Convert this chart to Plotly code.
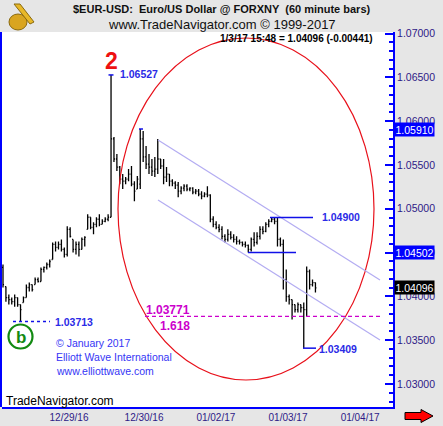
import plotly.graph_objects as go

# ---------------- data ----------------
bar_open = [1.04330, 1.04112, 1.03986, 1.03963, 1.03940, 1.03986, 1.03906, 1.03929, 1.03986, 1.04101,
            1.04135, 1.04135, 1.04192, 1.04170, 1.04307, 1.04330, 1.04364, 1.04421, 1.04593, 1.04559,
            1.04593, 1.04536, 1.04479, 1.04765, 1.04650, 1.04536, 1.04593, 1.04536, 1.04650, 1.04765,
            1.04903, 1.04788, 1.04822, 1.04880, 1.04822, 1.04857, 1.04880, 1.04903, 1.05797, 1.05568,
            1.05476, 1.05338, 1.05315, 1.05338, 1.05396, 1.05281, 1.05224, 1.05281, 1.05797, 1.05591,
            1.05510, 1.05476, 1.05430, 1.05453, 1.05568, 1.05488, 1.05361, 1.05396, 1.05315, 1.05292,
            1.05269, 1.05201, 1.05235, 1.05258, 1.05224, 1.05235, 1.05189, 1.05201, 1.05166, 1.05144,
            1.05166, 1.05155, 1.04880, 1.04822, 1.04788, 1.04765, 1.04685, 1.04650, 1.04708, 1.04673,
            1.04650, 1.04627, 1.04616, 1.04593, 1.04582, 1.04536, 1.04650, 1.04616, 1.04685, 1.04765,
            1.04742, 1.04822, 1.04857, 1.04880, 1.04857, 1.04650, 1.04593, 1.04192, 1.03998, 1.03963,
            1.03906, 1.03849, 1.03906, 1.03872, 1.03849, 1.04284, 1.04135, 1.04158]
bar_high = [1.04364, 1.04112, 1.04021, 1.03986, 1.04021, 1.03986, 1.03906, 1.03998, 1.04135, 1.04158,
            1.04135, 1.04215, 1.04215, 1.04330, 1.04341, 1.04387, 1.04421, 1.04616, 1.04627, 1.04627,
            1.04650, 1.04559, 1.04800, 1.04788, 1.04650, 1.04627, 1.04627, 1.04673, 1.04685, 1.04937,
            1.04903, 1.04845, 1.04903, 1.04937, 1.04880, 1.04903, 1.04937, 1.06527, 1.05820, 1.05625,
            1.05488, 1.05396, 1.05361, 1.05453, 1.05488, 1.05315, 1.05373, 1.05910, 1.05888, 1.05716,
            1.05625, 1.05568, 1.05591, 1.05797, 1.05568, 1.05568, 1.05476, 1.05396, 1.05338, 1.05315,
            1.05304, 1.05258, 1.05281, 1.05281, 1.05246, 1.05246, 1.05224, 1.05224, 1.05201, 1.05189,
            1.05258, 1.05166, 1.04914, 1.04857, 1.04822, 1.04800, 1.04708, 1.04765, 1.04742, 1.04708,
            1.04685, 1.04650, 1.04627, 1.04627, 1.04593, 1.04673, 1.04731, 1.04731, 1.04800, 1.04800,
            1.04845, 1.04880, 1.04900, 1.04900, 1.04900, 1.04673, 1.04650, 1.04307, 1.04021, 1.03963,
            1.03906, 1.03929, 1.03906, 1.03929, 1.04341, 1.04307, 1.04192, 1.04158]
bar_low = [1.04101, 1.03940, 1.03906, 1.03906, 1.03883, 1.03883, 1.03713, 1.03929, 1.03986, 1.04055,
           1.04055, 1.04135, 1.04158, 1.04170, 1.04273, 1.04307, 1.04330, 1.04421, 1.04513, 1.04536,
           1.04513, 1.04444, 1.04456, 1.04673, 1.04502, 1.04479, 1.04456, 1.04536, 1.04570, 1.04765,
           1.04765, 1.04708, 1.04788, 1.04800, 1.04822, 1.04845, 1.04857, 1.04903, 1.05533, 1.05430,
           1.05281, 1.05224, 1.05281, 1.05315, 1.05258, 1.05086, 1.05224, 1.05224, 1.05533, 1.05453,
           1.05396, 1.05373, 1.05361, 1.05396, 1.05453, 1.05281, 1.05304, 1.05258, 1.05258, 1.05224,
           1.05132, 1.05166, 1.05201, 1.05201, 1.05201, 1.05166, 1.05166, 1.05144, 1.05109, 1.05132,
           1.05132, 1.04845, 1.04788, 1.04765, 1.04731, 1.04650, 1.04616, 1.04627, 1.04650, 1.04616,
           1.04593, 1.04593, 1.04570, 1.04559, 1.04502, 1.04513, 1.04570, 1.04593, 1.04650, 1.04708,
           1.04731, 1.04788, 1.04845, 1.04822, 1.04570, 1.04570, 1.04078, 1.03940, 1.03906, 1.03735,
           1.03815, 1.03815, 1.03815, 1.03409, 1.03769, 1.04078, 1.04112, 1.04044]
bar_close = [1.04135, 1.03986, 1.03963, 1.03940, 1.03986, 1.03906, 1.03849, 1.03986, 1.04101, 1.04135,
             1.04078, 1.04192, 1.04170, 1.04307, 1.04330, 1.04364, 1.04398, 1.04593, 1.04559, 1.04593,
             1.04536, 1.04479, 1.04765, 1.04685, 1.04536, 1.04593, 1.04536, 1.04650, 1.04673, 1.04903,
             1.04788, 1.04822, 1.04880, 1.04822, 1.04857, 1.04880, 1.04903, 1.05797, 1.05568, 1.05476,
             1.05338, 1.05315, 1.05338, 1.05396, 1.05281, 1.05201, 1.05338, 1.05797, 1.05591, 1.05510,
             1.05476, 1.05430, 1.05453, 1.05568, 1.05488, 1.05361, 1.05396, 1.05315, 1.05292, 1.05269,
             1.05201, 1.05235, 1.05258, 1.05224, 1.05235, 1.05189, 1.05201, 1.05166, 1.05144, 1.05166,
             1.05155, 1.04880, 1.04822, 1.04788, 1.04765, 1.04685, 1.04650, 1.04708, 1.04673, 1.04650,
             1.04627, 1.04616, 1.04593, 1.04582, 1.04536, 1.04650, 1.04616, 1.04685, 1.04765, 1.04742,
             1.04822, 1.04857, 1.04880, 1.04857, 1.04650, 1.04593, 1.04192, 1.03998, 1.03963, 1.03906,
             1.03849, 1.03906, 1.03872, 1.03849, 1.04284, 1.04135, 1.04158, 1.04096]
bar_index = list(range(len(bar_open)))

date_labels = ["12/29/16", "12/30/16", "01/02/17", "01/03/17", "01/04/17"]
date_label_bar = [22.6, 48.3, 72.9, 97.6, 122.3]

y_tick_vals = [1.030, 1.035, 1.040, 1.045, 1.050, 1.055, 1.060, 1.065, 1.070]

wave2_high = 1.06527
second_high = 1.05910
waveb_low = 1.03713
recent_high = 1.04900
pivot_low = 1.04502
recent_low = 1.03409
fib_target = 1.03771
fib_ratio = "1.618"
last_price = 1.04096
last_change = -0.00441
last_time = "1/3/17 15:48"

# ---------------- layout helpers (pixel geometry of the 443x426 canvas) ----------------
W, H = 443, 426
PL, PR, PT, PB = 2, 393, 32, 407          # plot area in pixels
BAR_PX, BAR0_PX = 2.92, 3.0               # pixel pitch of bars / first bar position
Y_REF_PX, Y_PX_PER = 33.5, 8762.5         # pixel of 1.07000, pixels per price unit


def bx(px):      # pixel x -> bar index coordinate
    return (px - BAR0_PX) / BAR_PX


def py(pyv):     # pixel y -> price coordinate
    return 1.07 - (pyv - Y_REF_PX) / Y_PX_PER


def paper_x(px):
    return (px - PL) / (PR - PL)


def paper_y(pyv):
    return (PB - pyv) / (PB - PT)


FONT = "Arial, 'Liberation Sans', sans-serif"
AXIS_BLUE = "#0000FF"
LABEL_COL = "#2E1A87"
BLUE_TXT = "#2B2BE6"
MAGENTA = "#CC00CC"

fig = go.Figure()
fig.add_trace(go.Ohlc(
    x=bar_index, open=bar_open, high=bar_high, low=bar_low, close=bar_close,
    increasing=dict(line=dict(color="black", width=1.3)),
    decreasing=dict(line=dict(color="black", width=1.3)),
    tickwidth=0.35, hoverinfo="skip", showlegend=False,
))

shapes = []
# left border
shapes.append(dict(type="line", xref="paper", yref="paper", x0=paper_x(1), x1=paper_x(1), y0=0, y1=1,
                   line=dict(color=AXIS_BLUE, width=2)))
# ellipse
shapes.append(dict(type="circle", xref="x", yref="y", x0=bx(118), x1=bx(374), y0=py(380), y1=py(38),
                   line=dict(color="#E8101A", width=1.2)))
# channel lines
for y_a, y_b in [(140, 280), (200, 340)]:
    shapes.append(dict(type="line", xref="x", yref="y", x0=bx(158), x1=bx(380), y0=py(y_a), y1=py(y_b),
                       line=dict(color="#B3ACF2", width=1.2)))
# level lines
shapes.append(dict(type="line", xref="x", yref="y", x0=bx(270), x1=bx(313), y0=recent_high, y1=recent_high,
                   line=dict(color="#1010E8", width=1.5)))
shapes.append(dict(type="line", xref="x", yref="y", x0=bx(248), x1=bx(296), y0=pivot_low, y1=pivot_low,
                   line=dict(color="#1010E8", width=1.5)))
shapes.append(dict(type="line", xref="x", yref="y", x0=bx(303), x1=bx(316), y0=recent_low, y1=recent_low,
                   line=dict(color="#1010E8", width=1.5)))
shapes.append(dict(type="line", xref="x", yref="y", x0=bx(108.5), x1=bx(113.5), y0=wave2_high, y1=wave2_high,
                   line=dict(color="#1010E8", width=1.5)))
shapes.append(dict(type="line", xref="x", yref="y", x0=bx(139), x1=bx(143), y0=second_high, y1=second_high,
                   line=dict(color="#1010E8", width=1.5)))
shapes.append(dict(type="line", xref="x", yref="y", x0=bx(13), x1=bx(50), y0=waveb_low, y1=waveb_low,
                   line=dict(color="#1010E8", width=1.3, dash="3px,3px")))
shapes.append(dict(type="line", xref="x", yref="y", x0=bx(145), x1=bx(380), y0=fib_target, y1=fib_target,
                   line=dict(color=MAGENTA, width=1.3, dash="4px,3px")))
# wave b circle
shapes.append(dict(type="circle", xref="paper", yref="paper", x0=paper_x(8.5), x1=paper_x(32.5),
                   y0=paper_y(348.5), y1=paper_y(324.5), line=dict(color="#128A12", width=2.2)))
# red arrow (bottom right)
ax = [paper_x(v) for v in (405, 421, 433)]
ay = [paper_y(v) for v in (409.5, 412.5, 416, 419.5, 422.5)]
shapes.append(dict(type="path", xref="paper", yref="paper",
                   path=(f"M {ax[0]},{ay[1]} L {ax[1]},{ay[1]} L {ax[1]},{ay[0]} L {ax[2]},{ay[2]} "
                         f"L {ax[1]},{ay[4]} L {ax[1]},{ay[3]} L {ax[0]},{ay[3]} Z"),
                   fillcolor="#FF0000", line=dict(color="#000000", width=1)))
# simple sextant-like logo
shapes.append(dict(type="circle", xref="paper", yref="paper", x0=paper_x(9), x1=paper_x(27),
                   y0=paper_y(30), y1=paper_y(14), fillcolor="#D9A520", line=dict(color="#8A6A10", width=1)))
shapes.append(dict(type="path", xref="paper", yref="paper",
                   path=f"M {paper_x(14)},{paper_y(4)} L {paper_x(20)},{paper_y(4)} L {paper_x(34)},{paper_y(22)} "
                        f"L {paper_x(30)},{paper_y(24)} Z",
                   fillcolor="#E8B828", line=dict(color="#8A6A10", width=1)))

ann = []


def text(px, pyv, s, size, color, bold=False, anchor="left"):
    ann.append(dict(xref="paper", yref="paper", x=paper_x(px), y=paper_y(pyv), text=(f"<b>{s}</b>" if bold else s),
                    showarrow=False, xanchor=anchor, yanchor="middle",
                    font=dict(family=FONT, size=size, color=color)))


text(222, 9.5, "$EUR-USD:  Euro/US Dollar @ FORXNY  (60 minute bars)", 11, "#111111", bold=True, anchor="center")
text(222, 24.5, "www.TradeNavigator.com © 1999-2017", 13, "#111111", anchor="center")
text(375, 38, f"{last_time} = {last_price:.5f} ({last_change:.5f})", 10, "#000000", bold=True, anchor="right")
text(111.5, 61, "2", 23, "#EE1111", bold=True, anchor="center")
text(118, 74.5, f"{wave2_high:.5f}", 10.5, BLUE_TXT, bold=True)
text(320, 216.5, f"{recent_high:.5f}", 10.5, BLUE_TXT, bold=True)
text(317, 349, f"{recent_low:.5f}", 10.5, BLUE_TXT, bold=True)
text(53, 322, f"{waveb_low:.5f}", 10.5, BLUE_TXT, bold=True)
text(192, 310, f"{fib_target:.5f}", 12, MAGENTA, bold=True, anchor="right")
text(192, 326, fib_ratio, 12, MAGENTA, bold=True, anchor="right")
text(20.5, 337, "b", 17, "#128A12", bold=True, anchor="center")
text(54, 343, "© January 2017", 10.5, "#3535F5")
text(54, 357, "Elliott Wave International", 10.5, "#3535F5")
text(54, 371, "www.elliottwave.com", 10.5, "#3535F5")
text(4, 401, "TradeNavigator.com", 12, "#000000")

# price boxes on right axis
for val, bg in [(second_high, "#0000FF"), (pivot_low, "#0000FF"), (last_price, "#000000")]:
    ann.append(dict(xref="paper", yref="y", x=paper_x(394.5), y=val, text=f"{val:.5f}", showarrow=False,
                    xanchor="left", yanchor="middle", bgcolor=bg, borderpad=0.5,
                    font=dict(family=FONT, size=10.5, color="#FFFFFF")))

fig.update_layout(
    width=W, height=H, autosize=False,
    margin=dict(l=PL, r=W - PR, t=PT, b=H - PB, pad=0),
    paper_bgcolor="#E6E6E6", plot_bgcolor="#FFFFFF",
    shapes=shapes, annotations=ann, showlegend=False, hovermode=False,
    xaxis=dict(range=[bx(PL), bx(PR)], showgrid=False, zeroline=False, showline=True,
               linecolor=AXIS_BLUE, linewidth=2, tickvals=date_label_bar, ticktext=date_labels,
               ticks="", ticklabelstandoff=0, tickfont=dict(family=FONT, size=10, color=LABEL_COL),
               rangeslider=dict(visible=False), fixedrange=True),
    yaxis=dict(side="right", range=[py(PB), py(PT)], showgrid=False, zeroline=False,
               showline=True, linecolor=AXIS_BLUE, linewidth=2,
               tickvals=y_tick_vals, tickformat=".5f", ticks="inside", ticklen=8,
               tickcolor=AXIS_BLUE, tickwidth=2,
               minor=dict(dtick=0.001, tick0=1.03, ticks="inside", ticklen=4, tickcolor=AXIS_BLUE, tickwidth=1.5),
               tickfont=dict(family=FONT, size=10.5, color=LABEL_COL), fixedrange=True),
)

fig.write_html("out.html", config={"displayModeBar": False},
               post_script="document.body.style.margin='0';document.body.style.overflow='hidden';")
